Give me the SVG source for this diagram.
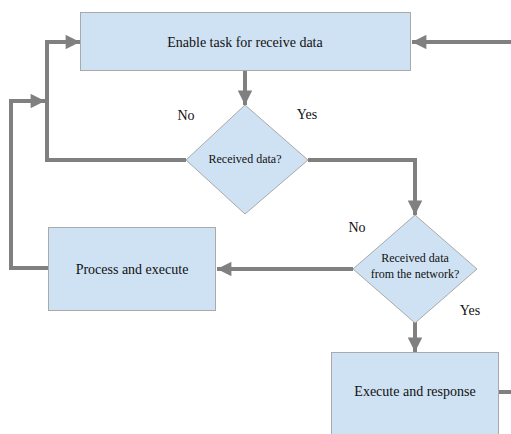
<svg xmlns="http://www.w3.org/2000/svg" width="511" height="434" viewBox="0 0 511 434">
  <style>
    .box { fill: #cfe2f3; stroke: #a9a9a9; stroke-width: 1; }
    .lbl { font-family: "Times New Roman", "Liberation Serif", "DejaVu Serif", serif; font-size: 14px; fill: #111; text-anchor: middle; }
    .small { font-size: 12px; }
    .edge { fill: none; stroke: #808080; stroke-width: 4; stroke-linejoin: miter; }
  </style>
  <defs>
    <marker id="arrow" viewBox="0 0 10 10" refX="10" refY="5" markerWidth="4.6" markerHeight="3.6" markerUnits="strokeWidth" orient="auto">
      <path d="M0,0 L10,5 L0,10 z" fill="#808080"/>
    </marker>
  </defs>
  <rect width="511" height="434" fill="#ffffff"/>

  <g id="connectors">
    <path class="edge" d="M245,71 V105" marker-end="url(#arrow)"/>
    <path class="edge" d="M186,160 H47 V42 H80" marker-end="url(#arrow)"/>
    <path class="edge" d="M48,268 H11 V101 H45" marker-end="url(#arrow)"/>
    <path class="edge" d="M308,160 H415 V215" marker-end="url(#arrow)"/>
    <path class="edge" d="M353,269 H217" marker-end="url(#arrow)"/>
    <path class="edge" d="M415,322 V352" marker-end="url(#arrow)"/>
    <path class="edge" d="M499,392 H515 M515,42 H412" marker-end="url(#arrow)"/>
  </g>

  <g id="enable">
    <rect class="box" x="80.5" y="12.5" width="330" height="58"/>
    <text class="lbl" x="245" y="47">Enable task for receive data</text>
  </g>

  <g id="received">
    <polygon class="box" points="245,105 308,160 245,214 186,160"/>
    <text class="lbl small" x="245" y="163">Received data?</text>
  </g>

  <g id="network">
    <polygon class="box" points="415,215 477,269 415,323 353,269"/>
    <text class="lbl small" x="415" y="262">Received data</text>
    <text class="lbl small" x="415" y="278">from the network?</text>
  </g>

  <g id="process">
    <rect class="box" x="48.5" y="227.5" width="167" height="83"/>
    <text class="lbl" x="132" y="274">Process and execute</text>
  </g>

  <g id="execute">
    <rect class="box" x="331.5" y="352.5" width="167" height="90"/>
    <text class="lbl" x="415" y="396">Execute and response</text>
  </g>

  <g id="labels">
    <text class="lbl" x="186" y="120">No</text>
    <text class="lbl" x="307" y="119">Yes</text>
    <text class="lbl" x="357" y="232">No</text>
    <text class="lbl" x="470" y="315">Yes</text>
  </g>
</svg>
